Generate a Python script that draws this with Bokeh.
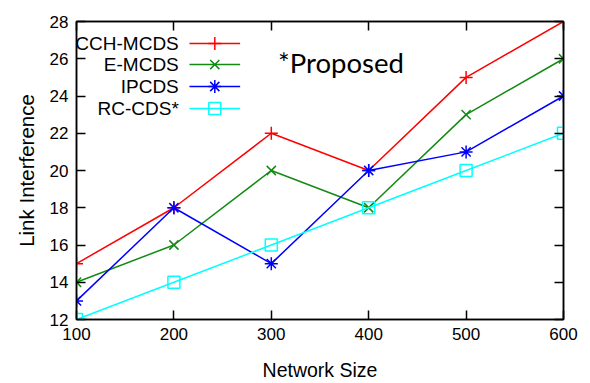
from bokeh.plotting import figure
from bokeh.models import LinearAxis, FixedTicker, Range1d, Label
from bokeh.embed import file_html
from bokeh.resources import INLINE

# Link interference versus network size for four CDS construction schemes
network_size = [100, 200, 300, 400, 500, 600]
cch_mcds = [15, 18, 22, 20, 25, 28]
e_mcds = [14, 16, 20, 18, 23, 26]
ipcds = [13, 18, 15, 20, 21, 24]
rc_cds = [12, 14, 16, 18, 20, 22]

series_names = ["CCH-MCDS", "E-MCDS", "IPCDS", "RC-CDS*"]
series_values = [cch_mcds, e_mcds, ipcds, rc_cds]
series_colors = ["#ff0000", "#138a13", "#0000ff", "#00ffff"]
series_markers = ["cross", "x", "asterisk", "square"]

x_ticks = [100, 200, 300, 400, 500, 600]
y_ticks = [12, 14, 16, 18, 20, 22, 24, 26, 28]

FONT = "Liberation Sans"

p = figure(width=590, height=383, output_backend="svg", toolbar_location=None,
           x_range=Range1d(100, 600), y_range=Range1d(12, 28),
           min_border_left=76, min_border_right=27, min_border_top=21,
           min_border_bottom=64)
p.xgrid.visible = False
p.ygrid.visible = False
p.outline_line_color = "black"
p.outline_line_width = 1.5
p.background_fill_color = "white"
p.border_fill_color = "white"

def style_axis(ax):
    ax.major_tick_in = 9
    ax.major_tick_out = 0
    ax.minor_tick_line_color = None
    ax.axis_line_color = "black"
    ax.axis_line_width = 1.5
    ax.major_tick_line_width = 1.5
    ax.major_label_text_font = FONT
    ax.major_label_text_color = "black"
    ax.major_label_text_font_size = "17px"
    ax.axis_label_text_font = FONT
    ax.axis_label_text_font_style = "normal"
    ax.axis_label_text_font_size = "19.5px"
    ax.axis_label_text_color = "black"

p.xaxis.ticker = FixedTicker(ticks=x_ticks)
p.yaxis.ticker = FixedTicker(ticks=y_ticks)
p.xaxis.axis_label = "Network Size"
p.yaxis.axis_label = "Link Interference"
style_axis(p.xaxis[0])
style_axis(p.yaxis[0])
p.yaxis.axis_label_text_font_size = "20.5px"
p.xaxis.major_label_standoff = 8
p.yaxis.major_label_standoff = 8
p.xaxis.axis_label_standoff = 16
p.yaxis.axis_label_standoff = 9

# Mirrored tick marks on the top and right edges, without labels
top_axis = LinearAxis(ticker=FixedTicker(ticks=x_ticks),
                      major_label_overrides={t: "" for t in x_ticks})
right_axis = LinearAxis(ticker=FixedTicker(ticks=y_ticks),
                        major_label_overrides={t: "" for t in y_ticks})
for ax in (top_axis, right_axis):
    style_axis(ax)
    ax.major_label_standoff = 0
p.add_layout(top_axis, "above")
p.add_layout(right_axis, "right")

for vals, color, marker in zip(series_values, series_colors, series_markers):
    p.line(network_size, vals, line_color=color, line_width=1.5)
    if marker == "square":
        p.scatter(network_size, vals, marker=marker, size=12, line_color=color,
                  fill_color=None, line_width=1.5)
    else:
        p.scatter(network_size, vals, marker=marker, size=13, line_color=color,
                  line_width=1.5)

# Key: right-aligned names followed by line samples, gnuplot style
key_rows = [26.82, 25.69, 24.51, 23.33]
for name, color, marker, ky in zip(series_names, series_colors, series_markers, key_rows):
    p.add_layout(Label(x=205, y=ky, text=name, text_align="right",
                       text_baseline="middle", text_font=FONT,
                       text_font_size="19px", text_color="black"))
    p.line([216, 268], [ky, ky], line_color=color, line_width=1.5)
    if marker == "square":
        p.scatter([242], [ky], marker=marker, size=12, line_color=color,
                  fill_color=None, line_width=1.5)
    else:
        p.scatter([242], [ky], marker=marker, size=13, line_color=color,
                  line_width=1.5)

p.add_layout(Label(x=307, y=25.8, text="*Proposed", text_align="left",
                   text_baseline="alphabetic", text_font="Lato",
                   text_font_size="27.5px", text_color="black"))

open("out.html", "w").write(file_html(p, INLINE))
